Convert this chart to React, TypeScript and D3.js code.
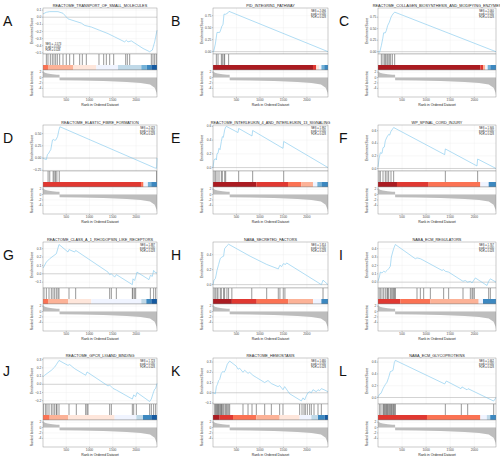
import React from "react";
import * as d3 from "d3";

// ---------- shared data ----------
const N_GENES = 2450;
const xTicks = [500, 1000, 1500, 2000];
const rankTicks = [2, 0, -2, -4];
const rankDomain: [number, number] = [-7.2, 2.8];
const rankedMetric: [number, number][] = [
  [0, 2.8], [10, 2.2], [40, 1.8], [100, 1.5], [200, 1.22], [300, 1.06], [355, 1.0],
  [356, -1.0], [800, -1.1], [1300, -1.3], [1800, -1.6], [2100, -2.0], [2300, -2.6],
  [2400, -3.8], [2440, -5.5], [2450, -6.6],
];
const barPalette = ["#08519C", "#3182BD", "#6BAED6", "#BDD7E7", "#EFF3FF",
  "#FEE5D9", "#FCAE91", "#FB6A4A", "#DE2D26", "#A50F15"];

const letters = ["A", "B", "C", "D", "E", "F", "G", "H", "I", "J", "K", "L"];
const titles = [
  "REACTOME_TRANSPORT_OF_SMALL_MOLECULES",
  "PID_INTEGRIN1_PATHWAY",
  "REACTOME_COLLAGEN_BIOSYNTHESIS_AND_MODIFYING_ENZYMES",
  "REACTOME_ELASTIC_FIBRE_FORMATION",
  "REACTOME_INTERLEUKIN_4_AND_INTERLEUKIN_13_SIGNALING",
  "WP_SPINAL_CORD_INJURY",
  "REACTOME_CLASS_A_1_RHODOPSIN_LIKE_RECEPTORS",
  "NABA_SECRETED_FACTORS",
  "NABA_ECM_REGULATORS",
  "REACTOME_GPCR_LIGAND_BINDING",
  "REACTOME_HEMOSTASIS",
  "NABA_ECM_GLYCOPROTEINS",
];
const nesValues = ["-1.573", "2.096", "2.060", "2.023", "1.992", "1.946", "1.887", "1.814", "1.767", "1.723", "1.680", "1.662"];
const padjValues = ["0.030", "0.030", "0.030", "0.030", "0.030", "0.030", "0.030", "0.030", "0.030", "0.030", "0.030", "0.030"];
const fdrValues = ["0.028", "0.028", "0.028", "0.028", "0.028", "0.028", "0.028", "0.028", "0.028", "0.028", "0.028", "0.028"];

// ---------- per-panel data ----------
const esA: [number, number][] = [[0, 0.046], [72, 0.069], [143, 0.078], [322, 0.078], [430, 0.055], [537, -0.023], [645, -0.046], [824, -0.083], [895, -0.115], [1039, -0.138], [1218, -0.184], [1397, -0.23], [1540, -0.276], [1755, -0.346], [1791, -0.323], [1827, -0.346], [1898, -0.332], [2149, -0.438], [2292, -0.484], [2350, -0.461], [2400, -0.346], [2450, -0.184]];
const hitsA = [72, 107, 158, 200, 236, 272, 308, 358, 430, 501, 573, 659, 788, 845, 931, 1203, 1304, 1361, 1433, 1519, 1777, 1812, 1863, 2328, 2364, 2400, 2436];
const barA: [number, number][] = [[107, 7], [645, 6], [1146, 5], [1612, 4], [2113, 3], [2230, 2], [2328, 1], [2450, 0]];
const esDomainA: [number, number] = [-0.516, 0.129];
const esTicksA = [0.1, 0, -0.1, -0.2, -0.3, -0.4, -0.5];

const esB: [number, number][] = [[0, 0], [14, 0.0], [50, 0.16], [85, 0.4], [142, 0.4], [163, 0.45], [192, 0.54], [213, 0.56], [234, 0.78], [270, 0.78], [320, 0.81], [341, 0.84], [2450, 0]];
const hitsB = [71, 107, 178, 199, 234, 248, 333];
const barB: [number, number][] = [[2130, 9], [2200, 8], [2260, 5], [2310, 4], [2370, 2], [2450, 1]];
const esDomainB: [number, number] = [-0.049, 0.91];
const esTicksB = [0, 0.25, 0.5, 0.75];

const esC: [number, number][] = [[0, 0], [35, -0.01], [69, 0.13], [97, 0.28], [118, 0.41], [152, 0.41], [173, 0.46], [201, 0.57], [235, 0.64], [270, 0.75], [291, 0.79], [311, 0.82], [346, 0.86], [2450, 0]];
const hitsC = [69, 104, 138, 159, 187, 208, 235, 263, 298, 346];
const barC: [number, number][] = [[2125, 9], [2180, 8], [2228, 6], [2277, 4], [2332, 2], [2450, 1]];
const esDomainC: [number, number] = [-0.05, 0.95];
const esTicksC = [0, 0.25, 0.5, 0.75];

const esD: [number, number][] = [[0, 0], [36, -0.02], [73, -0.03], [95, 0.07], [124, 0.1], [145, 0.14], [167, 0.17], [204, 0.37], [233, 0.38], [254, 0.36], [276, 0.37], [298, 0.41], [313, 0.44], [342, 0.57], [363, 0.64], [2399, -0.2], [2440, -0.21], [2450, 0]];
const hitsD = [109, 145, 218, 240, 269, 298, 349, 2440];
const barD: [number, number][] = [[2108, 8], [2160, 7], [2254, 4], [2326, 2], [2450, 1]];
const esDomainD: [number, number] = [-0.265, 0.676];
const esTicksD = [0.5, 0.25, 0, -0.25];

const esE: [number, number][] = [[0, 0], [21, 0.11], [50, 0.13], [71, 0.11], [85, 0.2], [107, 0.21], [128, 0.28], [149, 0.26], [178, 0.38], [199, 0.45], [220, 0.44], [249, 0.55], [270, 0.59], [284, 0.6], [533, 0.51], [547, 0.57], [831, 0.46], [845, 0.54], [1491, 0.28], [1506, 0.38], [2450, 0]];
const hitsE = [21, 50, 85, 128, 178, 199, 249, 270, 547, 845, 1506];
const barE: [number, number][] = [[923, 9], [1598, 8], [1882, 7], [2130, 6], [2223, 4], [2310, 2], [2450, 1]];
const esDomainE: [number, number] = [-0.05, 0.62];
const esTicksE = [0.6, 0.4, 0.2, 0];

const esF: [number, number][] = [[0, 0.02], [21, 0.15], [48, 0.25], [83, 0.24], [104, 0.33], [131, 0.34], [152, 0.44], [187, 0.5], [221, 0.54], [242, 0.53], [270, 0.59], [325, 0.65], [1384, 0.22], [1398, 0.31], [2055, 0.04], [2069, 0.15], [2450, 0]];
const hitsF = [21, 48, 104, 152, 187, 221, 270, 325, 1398, 2069];
const barF: [number, number][] = [[394, 9], [1052, 8], [2125, 7], [2298, 4], [2450, 1]];
const esDomainF: [number, number] = [-0.04, 0.69];
const esTicksF = [0.6, 0.4, 0.2, 0];

const esG: [number, number][] = [[0, 0.07], [14, 0.08], [72, 0.14], [143, 0.18], [215, 0.21], [287, 0.24], [344, 0.35], [537, 0.26], [559, 0.29], [681, 0.26], [702, 0.28], [1397, 0.02], [1433, -0.01], [1469, 0.0], [1540, -0.04], [1576, -0.01], [1920, -0.13], [1934, -0.06], [1970, -0.08], [1992, -0.04], [2020, 0.02], [2278, -0.07], [2307, -0.02], [2350, -0.03], [2378, 0.04], [2400, 0.02], [2450, 0.01]];
const hitsG = [21, 72, 129, 179, 215, 251, 287, 322, 344, 559, 702, 1433, 1469, 1576, 1920, 1934, 1970, 1992, 2307, 2378, 2421];
const barG: [number, number][] = [[107, 7], [537, 6], [1039, 5], [2113, 4], [2221, 3], [2328, 1], [2450, 0]];
const esDomainG: [number, number] = [-0.17, 0.38];
const esTicksG = [0.3, 0.2, 0.1, 0, -0.1];

const esH: [number, number][] = [[0, 0], [21, 0.06], [49, 0.08], [64, 0.12], [85, 0.19], [120, 0.27], [155, 0.35], [191, 0.37], [226, 0.38], [247, 0.48], [297, 0.52], [332, 0.54], [791, 0.38], [1144, 0.27], [1391, 0.21], [1426, 0.26], [1462, 0.24], [1497, 0.28], [1546, 0.27], [1568, 0.29], [2309, 0.0], [2344, 0.06], [2450, 0.0]];
const hitsH = [21, 49, 85, 106, 155, 177, 226, 247, 297, 332, 402, 826, 1144, 1391, 1426, 1497, 1532, 2344];
const barH: [number, number][] = [[402, 9], [932, 8], [1603, 7], [2132, 6], [2309, 4], [2450, 1]];
const esDomainH: [number, number] = [-0.045, 0.57];
const esTicksH = [0.4, 0.2, 0];

const esI: [number, number][] = [[0, 0.01], [28, 0.06], [48, 0.12], [83, 0.11], [118, 0.13], [152, 0.12], [187, 0.14], [221, 0.16], [256, 0.19], [277, 0.3], [305, 0.36], [325, 0.4], [360, 0.45], [775, 0.28], [810, 0.29], [879, 0.28], [914, 0.27], [1329, 0.14], [1363, 0.15], [1398, 0.13], [1467, 0.12], [1765, 0.01], [1813, 0.02], [1862, 0.0], [1917, 0.01], [1952, -0.01], [2021, 0.05], [2263, -0.04], [2298, 0.01], [2332, 0.04], [2450, 0.0]];
const hitsI = [21, 48, 83, 118, 152, 187, 201, 221, 256, 277, 305, 325, 346, 360, 810, 879, 948, 1087, 1363, 1467, 1765, 1917, 1952, 1972, 2000, 2298, 2332];
const barI: [number, number][] = [[464, 8], [1087, 7], [2090, 6], [2180, 4], [2450, 1]];
const esDomainI: [number, number] = [-0.07, 0.48];
const esTicksI = [0.4, 0.3, 0.2, 0.1, 0];

const esJ: [number, number][] = [[0, 0.09], [36, 0.11], [107, 0.14], [179, 0.17], [251, 0.21], [287, 0.24], [344, 0.29], [537, 0.23], [573, 0.24], [681, 0.19], [917, 0.11], [946, 0.15], [1397, -0.02], [1433, -0.01], [1504, -0.05], [1576, -0.07], [1920, -0.18], [1949, -0.13], [1992, -0.15], [2020, -0.1], [2292, -0.21], [2328, -0.18], [2378, -0.09], [2400, -0.06], [2421, -0.05], [2450, 0.01]];
const hitsJ = [14, 57, 86, 129, 179, 215, 251, 287, 301, 344, 559, 716, 917, 946, 967, 1433, 1469, 1920, 1949, 2006, 2292, 2328, 2378, 2421];
const barJ: [number, number][] = [[143, 7], [537, 6], [1540, 5], [2006, 4], [2149, 3], [2328, 1], [2450, 0]];
const esDomainJ: [number, number] = [-0.24, 0.32];
const esTicksJ = [0.3, 0.2, 0.1, 0, -0.1, -0.2];

const esK: [number, number][] = [[0, 0.0], [50, -0.01], [71, 0.06], [92, 0.08], [121, 0.12], [142, 0.13], [178, 0.19], [213, 0.21], [234, 0.2], [263, 0.22], [305, 0.28], [355, 0.31], [497, 0.26], [533, 0.23], [568, 0.24], [639, 0.2], [675, 0.22], [746, 0.19], [781, 0.2], [852, 0.17], [923, 0.15], [1101, 0.1], [1172, 0.12], [1243, 0.09], [1385, 0.06], [1420, 0.07], [1491, 0.03], [1527, 0.06], [1633, -0.01], [1882, -0.08], [1917, -0.05], [1953, -0.07], [1988, -0.03], [2024, 0.0], [2059, 0.01], [2095, 0.0], [2130, 0.03], [2201, 0.01], [2237, 0.03], [2272, 0.02], [2308, 0.04], [2365, 0.03], [2450, 0.01]];
const hitsK = [36, 57, 71, 92, 107, 121, 142, 163, 178, 192, 213, 234, 263, 284, 305, 334, 355, 639, 746, 831, 923, 1101, 1243, 1420, 1491, 1846, 1896, 1939, 1967, 2010, 2059, 2095, 2152, 2237, 2308];
const barK: [number, number][] = [[142, 9], [426, 8], [923, 7], [1420, 6], [1846, 5], [2095, 4], [2237, 3], [2380, 1], [2450, 0]];
const esDomainK: [number, number] = [-0.11, 0.34];
const esTicksK = [0.3, 0.2, 0.1, 0, -0.1];

const esL: [number, number][] = [[0, 0.01], [35, 0.06], [62, 0.07], [104, 0.15], [131, 0.19], [152, 0.22], [187, 0.26], [221, 0.34], [256, 0.44], [291, 0.45], [311, 0.46], [339, 0.59], [360, 0.63], [1384, 0.23], [1419, 0.28], [1723, 0.15], [1744, 0.18], [1848, 0.13], [1869, 0.15], [2402, -0.06], [2450, 0.0]];
const hitsL = [35, 62, 104, 118, 138, 152, 173, 187, 201, 221, 242, 256, 277, 291, 311, 325, 346, 360, 1398, 1730, 1862, 2402];
const barL: [number, number][] = [[1017, 8], [2125, 7], [2260, 4], [2330, 3], [2450, 1]];
const esDomainL: [number, number] = [-0.11, 0.67];
const esTicksL = [0.6, 0.4, 0.2, 0];

const panels = [
  { es: esA, hits: hitsA, bar: barA, dom: esDomainA, ticks: esTicksA, dec: 1, statPos: "bl" },
  { es: esB, hits: hitsB, bar: barB, dom: esDomainB, ticks: esTicksB, dec: 2, statPos: "tr" },
  { es: esC, hits: hitsC, bar: barC, dom: esDomainC, ticks: esTicksC, dec: 2, statPos: "tr" },
  { es: esD, hits: hitsD, bar: barD, dom: esDomainD, ticks: esTicksD, dec: 2, statPos: "tr" },
  { es: esE, hits: hitsE, bar: barE, dom: esDomainE, ticks: esTicksE, dec: 1, statPos: "tr" },
  { es: esF, hits: hitsF, bar: barF, dom: esDomainF, ticks: esTicksF, dec: 1, statPos: "tr" },
  { es: esG, hits: hitsG, bar: barG, dom: esDomainG, ticks: esTicksG, dec: 1, statPos: "tr" },
  { es: esH, hits: hitsH, bar: barH, dom: esDomainH, ticks: esTicksH, dec: 1, statPos: "tr" },
  { es: esI, hits: hitsI, bar: barI, dom: esDomainI, ticks: esTicksI, dec: 1, statPos: "tr" },
  { es: esJ, hits: hitsJ, bar: barJ, dom: esDomainJ, ticks: esTicksJ, dec: 1, statPos: "tr" },
  { es: esK, hits: hitsK, bar: barK, dom: esDomainK, ticks: esTicksK, dec: 1, statPos: "tr" },
  { es: esL, hits: hitsL, bar: barL, dom: esDomainL, ticks: esTicksL, dec: 1, statPos: "tr" },
];

// ---------- layout ----------
const colX = [43, 213, 378];
const colW = [114, 115, 118];
const rowY = [8, 125, 242, 358];
const letterX = [3, 171, 339];
const FONT = "'Liberation Sans', Arial, sans-serif";

function GseaPanel({ idx, x0, y0, w }: { idx: number; x0: number; y0: number; w: number }) {
  const p = panels[idx];
  const esHgt = 46, hitHgt = 11, barHgt = 5, rankHgt = 27;
  const yHit = y0 + esHgt;
  const yBar = yHit + hitHgt;
  const yRank = yBar + barHgt;
  const yEnd = yRank + rankHgt;
  const x = d3.scaleLinear().domain([0, N_GENES]).range([x0, x0 + w]);
  const yEs = d3.scaleLinear().domain(p.dom).range([yHit, y0]);
  const yR = d3.scaleLinear().domain(rankDomain).range([yEnd, yRank]);
  const esPath = d3.line<[number, number]>().x((d) => x(d[0])).y((d) => yEs(d[1]))(p.es) || "";
  const areaPath = d3.area<[number, number]>().x((d) => x(d[0])).y0(yR(0)).y1((d) => yR(d[1]))(rankedMetric) || "";
  let prev = 0;
  const bars = p.bar.map(([end, ci]) => {
    const r = { x: x(prev), w: x(end) - x(prev), c: barPalette[ci] };
    prev = end;
    return r;
  });
  const fmt = d3.format(`.${p.dec}f`);
  const grid = "#ebebeb";
  const frame = "#7f7f7f";
  const tickCol = "#4d4d4d";
  const fs = 3.3;
  const statLines = [`NES = ${nesValues[idx]}`, `p.adj = ${padjValues[idx]}`, `FDR = ${fdrValues[idx]}`];
  const cx = x0 + w / 2;
  return (
    <g>
      {/* title */}
      <text x={cx} y={y0 - 1.4} fontSize={3.8} textAnchor="middle" fill="#222" fontFamily={FONT}>{titles[idx]}</text>
      {/* ES panel */}
      <rect x={x0} y={y0} width={w} height={esHgt} fill="#fff" />
      {xTicks.map((t) => <line key={"gx" + t} x1={x(t)} x2={x(t)} y1={y0} y2={yHit} stroke={grid} strokeWidth={0.35} />)}
      {p.ticks.map((t) => <line key={"gy" + t} x1={x0} x2={x0 + w} y1={yEs(t)} y2={yEs(t)} stroke={grid} strokeWidth={0.35} />)}
      <line x1={x0} x2={x0 + w} y1={yEs(0)} y2={yEs(0)} stroke="#a6a6a6" strokeWidth={0.45} />
      <path d={esPath} fill="none" stroke="#7cc6ec" strokeWidth={0.6} />
      <rect x={x0} y={y0} width={w} height={esHgt} fill="none" stroke={frame} strokeWidth={0.4} />
      {p.ticks.map((t) => (
        <g key={"ty" + t}>
          <line x1={x0 - 1} x2={x0} y1={yEs(t)} y2={yEs(t)} stroke={tickCol} strokeWidth={0.3} />
          <text x={x0 - 1.6} y={yEs(t) + 1.1} fontSize={fs} textAnchor="end" fill={tickCol} fontFamily={FONT}>{fmt(t)}</text>
        </g>
      ))}
      <text transform={`translate(${x0 - 10.5},${y0 + esHgt / 2}) rotate(-90)`} fontSize={3.3} textAnchor="middle" fill="#222" fontFamily={FONT}>Enrichment Score</text>
      {statLines.map((s, i) =>
        p.statPos === "tr" ? (
          <text key={s} x={x0 + w - 2} y={y0 + 4 + i * 3.1} fontSize={2.6} textAnchor="end" fill="#222" fontFamily={FONT}>{s}</text>
        ) : (
          <text key={s} x={x0 + 2.5} y={yHit - 9 + i * 3.1} fontSize={2.6} textAnchor="start" fill="#222" fontFamily={FONT}>{s}</text>
        )
      )}
      {/* hits + color bar */}
      <rect x={x0} y={yHit} width={w} height={hitHgt + barHgt} fill="#fff" />
      {p.hits.map((h, i) => <line key={"h" + i} x1={x(h)} x2={x(h)} y1={yHit} y2={yBar} stroke="#1a1a1a" strokeWidth={0.45} />)}
      {bars.map((b, i) => <rect key={"b" + i} x={b.x} y={yBar} width={b.w} height={barHgt} fill={b.c} opacity={0.95} />)}
      <rect x={x0} y={yHit} width={w} height={hitHgt + barHgt} fill="none" stroke={frame} strokeWidth={0.4} />
      {/* ranked list */}
      <rect x={x0} y={yRank} width={w} height={rankHgt} fill="#fff" />
      {xTicks.map((t) => <line key={"rx" + t} x1={x(t)} x2={x(t)} y1={yRank} y2={yEnd} stroke={grid} strokeWidth={0.35} />)}
      {rankTicks.map((t) => <line key={"ry" + t} x1={x0} x2={x0 + w} y1={yR(t)} y2={yR(t)} stroke={grid} strokeWidth={0.35} />)}
      <path d={areaPath} fill="#bdbdbd" stroke="none" />
      <rect x={x0} y={yRank} width={w} height={rankHgt} fill="none" stroke={frame} strokeWidth={0.4} />
      {rankTicks.map((t) => (
        <g key={"rt" + t}>
          <line x1={x0 - 1} x2={x0} y1={yR(t)} y2={yR(t)} stroke={tickCol} strokeWidth={0.3} />
          <text x={x0 - 1.6} y={yR(t) + 1.1} fontSize={fs} textAnchor="end" fill={tickCol} fontFamily={FONT}>{t}</text>
        </g>
      ))}
      <text transform={`translate(${x0 - 10.5},${yRank + rankHgt / 2}) rotate(-90)`} fontSize={3.2} textAnchor="middle" fill="#222" fontFamily={FONT}>Ranked list metric</text>
      {xTicks.map((t) => (
        <g key={"xt" + t}>
          <line x1={x(t)} x2={x(t)} y1={yEnd} y2={yEnd + 1} stroke={tickCol} strokeWidth={0.3} />
          <text x={x(t)} y={yEnd + 4.4} fontSize={fs} textAnchor="middle" fill={tickCol} fontFamily={FONT}>{t}</text>
        </g>
      ))}
      <text x={cx} y={yEnd + 8.6} fontSize={3.4} textAnchor="middle" fill="#222" fontFamily={FONT}>Rank in Ordered Dataset</text>
    </g>
  );
}

export default function App() {
  return (
    <svg width={500} height={457} style={{ position: "absolute", left: 0, top: 0, background: "#fff" }}>
      <rect x={0} y={0} width={500} height={457} fill="#fff" />
      {panels.map((_, i) => {
        const r = Math.floor(i / 3);
        const c = i % 3;
        return (
          <g key={i}>
            <text x={letterX[c]} y={rowY[r] + 18} fontSize={14} fill="#111" fontFamily={FONT}>{letters[i]}</text>
            <GseaPanel idx={i} x0={colX[c]} y0={rowY[r]} w={colW[c]} />
          </g>
        );
      })}
    </svg>
  );
}
